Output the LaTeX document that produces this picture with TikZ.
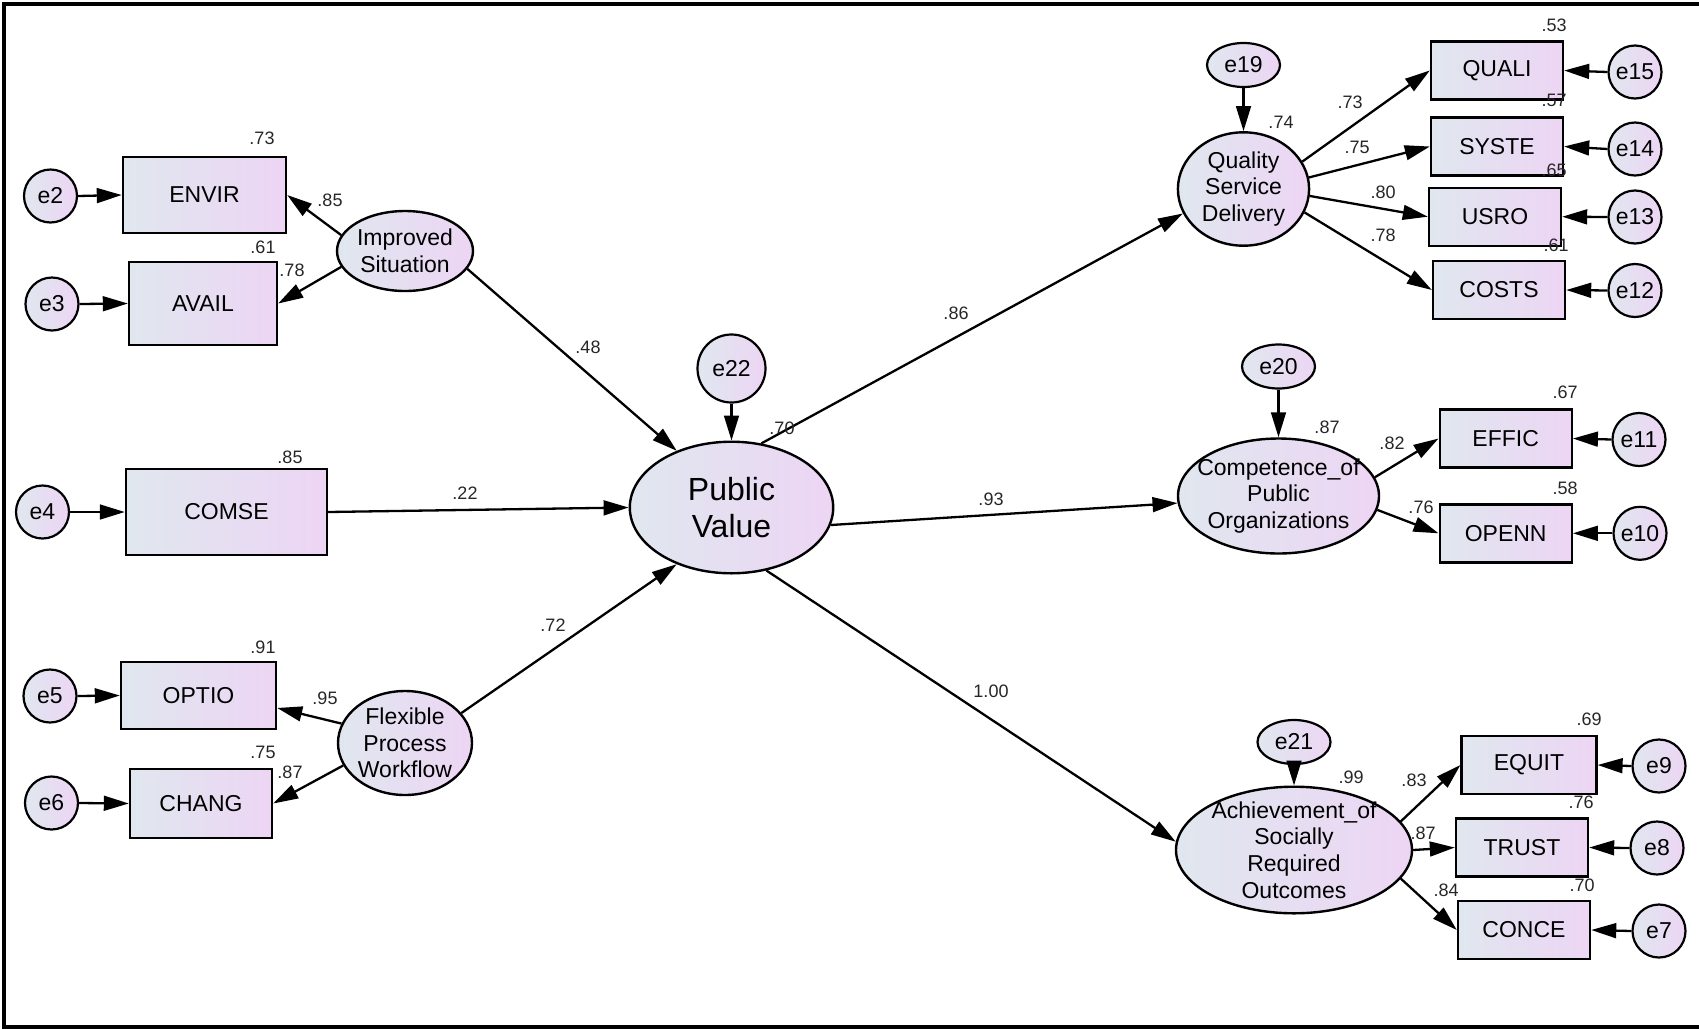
\documentclass[tikz,border=0pt]{standalone}
\usepackage{fontspec}
\setmainfont{Liberation Sans}
\usetikzlibrary{arrows.meta,shapes.geometric}
\definecolor{gleft}{RGB}{224,231,239}
\definecolor{gright}{RGB}{237,213,244}
\tikzset{
  fill shade/.style={left color=gleft, right color=gright},
  obs/.style={draw, line width=1.2pt, rectangle, fill shade, inner sep=0pt,
    minimum width=66pt, minimum height=29pt, font=\fontsize{11.5}{13}\selectfont},
  err/.style={draw, line width=1.1pt, circle, fill shade, inner sep=0pt,
    minimum size=26.5pt, font=\fontsize{11.5}{13}\selectfont},
  errv/.style={draw, line width=1.1pt, ellipse, fill shade, inner sep=0pt,
    minimum width=36.5pt, minimum height=22pt, font=\fontsize{11.5}{13}\selectfont},
  lat/.style={draw, line width=1.2pt, ellipse, fill shade, inner sep=0pt},
  lattext/.style={align=center, font=\fontsize{11.5}{13.3}\selectfont, inner sep=0pt},
  conn/.style={line width=1.15pt, -{Triangle[length=12.5pt,width=7.4pt]}},
  lbl/.style={font=\fontsize{9}{10}\selectfont, inner sep=0pt, text=black!85},
}
\begin{document}
\begin{tikzpicture}[x=0.5pt,y=-0.5pt]
\useasboundingbox (0,0) rectangle (1699,1029);
\draw[line width=2.2pt] (1699,4) -- (4,4) -- (4,1027) -- (1699,1027);

% ---- left side
\node[err] (e2) at (50.5,196) {e2};
\node[obs, minimum width=81.5pt, minimum height=38pt] (ENVIR) at (204.5,195) {ENVIR};
\node[err] (e3) at (52,304) {e3};
\node[obs, minimum width=74pt, minimum height=41.5pt] (AVAIL) at (203,303.5) {AVAIL};
\node[lat, minimum width=68pt, minimum height=40pt,
  label={[lattext]center:Improved\\Situation}] (IS) at (405,251) {};
\node[err] (e4) at (42.5,512) {e4};
\node[obs, minimum width=100.5pt, minimum height=43pt] (COMSE) at (226.5,512) {COMSE};
\node[err] (e5) at (50,696) {e5};
\node[obs, minimum width=77.5pt, minimum height=33.5pt] (OPTIO) at (198.5,695.5) {OPTIO};
\node[err] (e6) at (51.5,803) {e6};
\node[obs, minimum width=71pt, minimum height=34.5pt] (CHANG) at (201,803.5) {CHANG};
\node[lat, minimum width=67pt, minimum height=52pt,
  label={[lattext]center:Flexible\\Process\\Workflow}] (FPW) at (405,743) {};

% ---- centre
\node[lat, minimum width=101.7pt, minimum height=65.8pt,
  label={[lattext, font=\fontsize{16}{18.3}\selectfont]center:Public\\Value}] (PV) at (731.5,507.5) {};
\node[err, minimum size=34pt] (e22) at (731.5,368.5) {e22};

% ---- right top
\node[lat, minimum width=65.6pt, minimum height=56.7pt,
  label={[lattext]center:Quality\\Service\\Delivery}] (QSD) at (1243.5,189) {};
\node[errv] (e19) at (1243.5,65) {e19};
\node[obs] (QUALI) at (1497,70.5) {QUALI};
\node[obs] (SYSTE) at (1497,146.5) {SYSTE};
\node[obs] (USRO) at (1495,216.7) {USRO};
\node[obs] (COSTS) at (1499,290) {COSTS};
\node[err] (e15) at (1635,72) {e15};
\node[err] (e14) at (1635,149) {e14};
\node[err] (e13) at (1635,217) {e13};
\node[err] (e12) at (1635,290.5) {e12};

% ---- right middle
\node[lat, minimum width=100.5pt, minimum height=57.5pt,
  label={[lattext]center:Competence\_of\\Public\\Organizations}] (CPO) at (1278.5,496) {};
\node[errv] (e20) at (1278.5,366.5) {e20};
\node[obs] (EFFIC) at (1505.7,438.5) {EFFIC};
\node[obs] (OPENN) at (1505.7,533.3) {OPENN};
\node[err] (e11) at (1639,439.5) {e11};
\node[err] (e10) at (1640,533.3) {e10};

% ---- right bottom
\node[lat, minimum width=118pt, minimum height=63.3pt,
  label={[lattext]center:Achievement\_of\\Socially\\Required\\Outcomes}] (ASRO) at (1294,850) {};
\node[errv] (e21) at (1294,742) {e21};
\node[obs, minimum width=67.4pt] (EQUIT) at (1529,765) {EQUIT};
\node[obs] (TRUST) at (1522,847.5) {TRUST};
\node[obs] (CONCE) at (1524,930) {CONCE};
\node[err] (e9) at (1659,766) {e9};
\node[err] (e8) at (1657,848) {e8};
\node[err] (e7) at (1659,931) {e7};

% ---- connectors
\draw[conn] (e2.east) -- (ENVIR.west);
\draw[conn] (e3.east) -- (AVAIL.west);
\draw[conn] (e4.east) -- (COMSE.west);
\draw[conn] (e5.east) -- (OPTIO.west);
\draw[conn] (e6.east) -- (CHANG.west);
\draw[conn] (IS.166) -- (ENVIR.east);
\draw[conn] (IS.194) -- (AVAIL.east);
\draw[conn] (IS.-16) -- (PV.134);
\draw[conn] (COMSE.east) -- (PV.west);
\draw[conn] (FPW.163) -- (OPTIO.-9.5);
\draw[conn] (FPW.200) -- (CHANG.east);
\draw[conn] (FPW.28) -- (PV.226);
\draw[conn] (e22.south) -- (PV.north);
\draw[conn] (PV.65) -- (QSD.202);
\draw[conn] (PV.-10) -- (CPO.184);
\draw[conn] (PV.-61) -- (ASRO.176);
\draw[conn] (e19.south) -- (QSD.north);
\draw[conn] (QSD.25.6) -- (QUALI.west);
\draw[conn] (QSD.10.6) -- (SYSTE.west);
\draw[conn] (QSD.-6.5) -- (USRO.west);
\draw[conn] (QSD.-21.3) -- (COSTS.west);
\draw[conn] (e15.west) -- (QUALI.east);
\draw[conn] (e14.west) -- (SYSTE.east);
\draw[conn] (e13.west) -- (USRO.east);
\draw[conn] (e12.west) -- (COSTS.east);
\draw[conn] (e20.south) -- (CPO.north);
\draw[conn] (CPO.11.2) -- (EFFIC.west);
\draw[conn] (CPO.-8.1) -- (OPENN.west);
\draw[conn] (e11.west) -- (EFFIC.east);
\draw[conn] (e10.west) -- (OPENN.east);
\draw[conn] (e21.south) -- (ASRO.north);
\draw[conn] (ASRO.15.8) -- (EQUIT.west);
\draw[conn] (ASRO.east) -- (TRUST.west);
\draw[conn] (ASRO.-15.6) -- (CONCE.west);
\draw[conn] (e9.west) -- (EQUIT.east);
\draw[conn] (e8.west) -- (TRUST.east);
\draw[conn] (e7.west) -- (CONCE.east);

% ---- coefficient labels
\node[lbl] (l1) at (262,138) {.73};
\node[lbl] (l2) at (330,200) {.85};
\node[lbl] (l3) at (263,247) {.61};
\node[lbl] (l4) at (292,270) {.78};
\node[lbl] (l5) at (290,457) {.85};
\node[lbl] (l6) at (465,493) {.22};
\node[lbl] (l7) at (588,347) {.48};
\node[lbl] (l8) at (263,647) {.91};
\node[lbl] (l9) at (325,698) {.95};
\node[lbl] (l10) at (263,752) {.75};
\node[lbl] (l11) at (290,772) {.87};
\node[lbl] (l12) at (553,625) {.72};
\node[lbl] (l13) at (782,428) {.70};
\node[lbl] (l14) at (956,313) {.86};
\node[lbl] (l15) at (991,499) {.93};
\node[lbl] (l16) at (991,691) {1.00};
\node[lbl] (l17) at (1554,25) {.53};
\node[lbl] (l18) at (1350,102) {.73};
\node[lbl] (l19) at (1281,122) {.74};
\node[lbl] (l20) at (1357,147) {.75};
\node[lbl] (l21) at (1554,100) {.57};
\node[lbl] (l22) at (1383,192) {.80};
\node[lbl] (l23) at (1554,170) {.65};
\node[lbl] (l24) at (1383,235) {.78};
\node[lbl] (l25) at (1556,245) {.61};
\node[lbl] (l26) at (1327,427) {.87};
\node[lbl] (l27) at (1565,392) {.67};
\node[lbl] (l28) at (1392,443) {.82};
\node[lbl] (l29) at (1565,488) {.58};
\node[lbl] (l30) at (1421,507) {.76};
\node[lbl] (l31) at (1589,719) {.69};
\node[lbl] (l32) at (1351,777) {.99};
\node[lbl] (l33) at (1414,780) {.83};
\node[lbl] (l34) at (1581,802) {.76};
\node[lbl] (l35) at (1423,833) {.87};
\node[lbl] (l36) at (1582,885) {.70};
\node[lbl] (l37) at (1446,890) {.84};
\end{tikzpicture}
\end{document}
